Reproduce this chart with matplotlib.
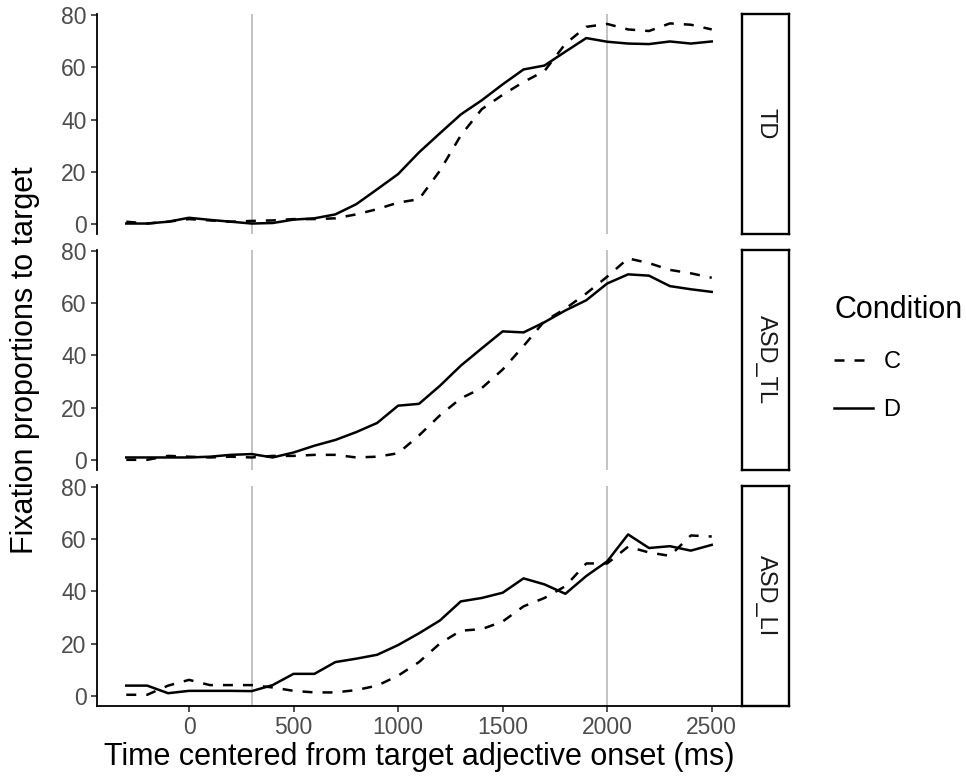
import numpy as np
import matplotlib
matplotlib.use("Agg")
import matplotlib.pyplot as plt
from matplotlib.lines import Line2D

plt.rcParams['font.family'] = ['Liberation Sans', 'DejaVu Sans']

# time bins (ms)
time = list(range(-300, 2600, 100))

groups = ["TD", "ASD_TL", "ASD_LI"]

# condition D (solid)
td_d = [0.3, 0.3, 1.0, 2.5, 1.7, 1.0, 0.3, 0.5, 1.8, 2.3, 3.8, 7.7, 13.4, 19.2, 27.5,
        34.8, 42.0, 47.4, 53.5, 59.2, 60.7, 66.0, 71.2, 69.8, 69.1, 68.9, 69.9, 69.1, 69.9]
tl_d = [0.9, 0.9, 0.9, 0.9, 1.2, 1.9, 2.2, 0.9, 2.8, 5.4, 7.6, 10.6, 14.1, 20.7, 21.4,
        28.3, 36.0, 42.6, 49.1, 48.7, 52.6, 57.1, 61.0, 67.4, 70.9, 70.4, 66.4, 65.2, 64.2]
li_d = [3.9, 3.9, 1.0, 1.9, 1.9, 1.9, 1.8, 4.1, 8.4, 8.4, 12.9, 14.2, 15.7, 19.4, 23.9,
        28.8, 36.1, 37.4, 39.4, 44.9, 42.6, 39.0, 45.8, 51.4, 61.7, 56.5, 57.2, 55.5, 57.7]

# condition C (dashed)
td_c = [1.0, 0.3, 1.0, 2.0, 1.5, 1.0, 1.3, 1.5, 2.0, 2.0, 2.3, 3.8, 5.8, 8.3, 9.6,
        20.5, 34.0, 44.0, 49.5, 54.4, 58.6, 69.0, 75.5, 76.6, 74.5, 73.9, 76.8, 76.3, 74.5]
tl_c = [0.0, 0.0, 1.5, 1.2, 0.9, 1.2, 0.9, 1.5, 1.5, 1.9, 1.9, 0.9, 1.2, 2.5, 9.3,
        17.0, 23.5, 27.4, 34.5, 43.5, 53.0, 57.8, 63.6, 70.0, 77.0, 75.2, 72.6, 71.3, 69.6]
li_c = [0.4, 0.4, 3.9, 6.1, 4.1, 4.1, 4.1, 3.2, 1.9, 1.3, 1.3, 2.2, 3.9, 7.7, 12.9,
        20.0, 24.9, 25.5, 28.4, 34.2, 37.4, 41.9, 50.6, 50.6, 57.0, 54.8, 53.5, 61.3, 60.9]

series_c = [td_c, tl_c, li_c]
series_d = [td_d, tl_d, li_d]

x_ticks = [0, 500, 1000, 1500, 2000, 2500]
y_ticks = [0, 20, 40, 60, 80]
vlines = [300, 2000]

W, H = 966, 781
fig = plt.figure(figsize=(W / 100, H / 100), dpi=100)

left, right = 97, 741
tops = [14, 249.5, 485.5]
ph = 220
strip_w = 47
tick_col = "#4D4D4D"
lw = 1.8
dash = (0, (4, 4))

for i, g in enumerate(groups):
    ax = fig.add_axes([left / W, 1 - (tops[i] + ph) / H, (right - left) / W, ph / H])
    for v in vlines:
        ax.axvline(v, color="#BEBEBE", lw=1.3, zorder=1)
    ax.plot(time, series_c[i], color="black", lw=lw, linestyle=dash, zorder=3)
    ax.plot(time, series_d[i], color="black", lw=lw, zorder=3)
    ax.set_xlim(-440, 2640)
    ax.set_ylim(-3.7, 80.4)
    ax.set_yticks(y_ticks)
    ax.set_xticks(x_ticks)
    for s in ["top", "right"]:
        ax.spines[s].set_visible(False)
    ax.spines["left"].set_linewidth(1.3)
    ax.tick_params(axis="both", colors="#333333", width=1.2, length=4.5,
                   labelsize=16.5, labelcolor=tick_col, pad=3)
    if i < 2:
        ax.spines["bottom"].set_visible(False)
        ax.tick_params(axis="x", bottom=False, labelbottom=False)
    else:
        ax.spines["bottom"].set_linewidth(1.3)

    # facet strip on the right
    sax = fig.add_axes([(right + 1) / W, 1 - (tops[i] + ph) / H, strip_w / W, ph / H])
    sax.set_xticks([])
    sax.set_yticks([])
    for s in sax.spines.values():
        s.set_linewidth(1.7)
        s.set_color("black")
    sax.text(0.5, 0.5, g, rotation=-90, ha="center", va="center",
             fontsize=17, color="#1A1A1A", transform=sax.transAxes)

fig.text(((left + right) / 2) / W, 1 - 757 / H,
         "Time centered from target adjective onset (ms)",
         ha="center", va="center", fontsize=22)
fig.text(25 / W, 1 - ((tops[0] + tops[2] + ph) / 2) / H,
         "Fixation proportions to target",
         rotation=90, ha="center", va="center", fontsize=22)

handles = [Line2D([], [], color="black", lw=lw, linestyle=dash),
           Line2D([], [], color="black", lw=lw)]
leg = fig.legend(handles, ["C", "D"], title="Condition", loc="upper left",
                 bbox_to_anchor=(834 / W, 1 - 295 / H), frameon=False,
                 borderpad=0, borderaxespad=0,
                 fontsize=17, title_fontsize=22, handlelength=1.65,
                 handletextpad=0.45, labelspacing=1.1, alignment="left")

fig.savefig("out.png", dpi=100)
